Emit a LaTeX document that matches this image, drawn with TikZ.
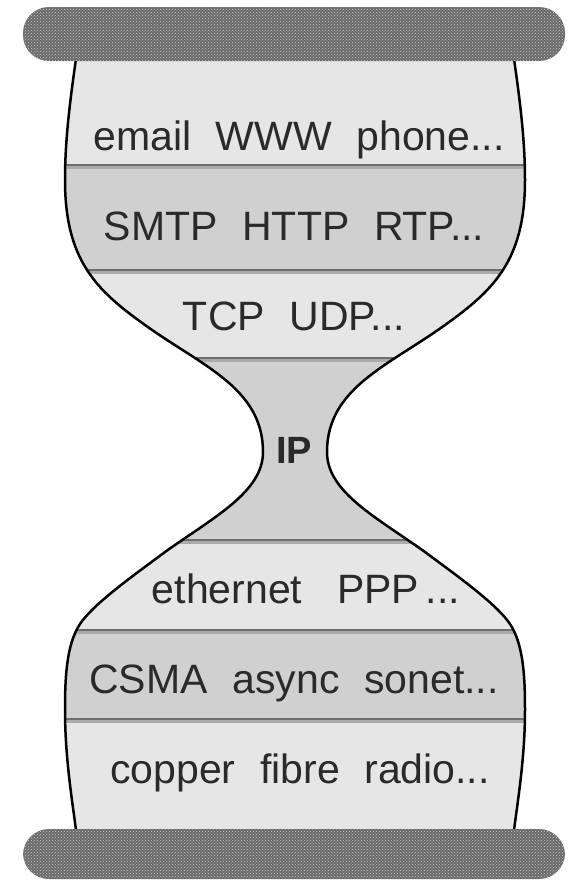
\documentclass[tikz,border=0pt]{standalone}
\usepackage{fontspec}
\setmainfont{Liberation Sans}
\usetikzlibrary{patterns}

\definecolor{lightband}{HTML}{E6E6E6}
\definecolor{darkband}{HTML}{D0D0D0}
\definecolor{sepdark}{HTML}{6E6E6E}
\definecolor{seplight}{HTML}{ABABAB}
\definecolor{bargray}{HTML}{6A6A6A}
\definecolor{inkgray}{HTML}{2A2A2A}

\newcommand{\gap}{\hspace{0.6em}}
\newcommand{\hourglass}{(77,52) .. controls (70,100) and (65,140) .. (65,180)
  .. controls (65,260) and (96,290) .. (145,325)
  .. controls (202,366) and (263,388) .. (263,452)
  .. controls (263,492) and (214,517) .. (165,552)
  .. controls (137,573) and (94,603) .. (80,624)
  .. controls (66,645) and (65,680) .. (65,710)
  .. controls (65,760) and (73,805) .. (77,838)
  -- (513,838)
  .. controls (517,805) and (525,760) .. (525,710)
  .. controls (525,680) and (524,645) .. (510,624)
  .. controls (496,603) and (453,573) .. (425,552)
  .. controls (376,517) and (327,492) .. (327,452)
  .. controls (327,388) and (388,366) .. (445,325)
  .. controls (494,290) and (525,260) .. (525,180)
  .. controls (525,140) and (520,100) .. (513,52) -- cycle}

\tikzset{
  layer/.style={anchor=base, inner sep=0pt, text=inkgray, font=\fontsize{41}{41}\selectfont},
  sepline/.style={draw=sepdark, line width=2pt},
  sepshade/.style={draw=seplight, line width=3pt},
  bar/.style={rounded corners=26pt, preaction={fill=bargray}, pattern=crosshatch dots, pattern color=black!22},
  outline/.style={draw=black, line width=2.5pt, line join=round}
}

\begin{document}
\begin{tikzpicture}[x=1pt, y=-1pt]
    \useasboundingbox (0,0) rectangle (574,881);
    \begin{scope}
      \clip \hourglass;
      \fill[lightband] (0,0) rectangle (574,881);
      \fill[darkband] (0,165) rectangle (574,270);
      \fill[darkband] (0,358) rectangle (574,540);
      \fill[darkband] (0,630) rectangle (574,719);
      \foreach \y in {165,270,358,540,630,719} {
        \draw[sepshade] (0,\y+2.5) -- (574,\y+2.5);
        \draw[sepline] (0,\y) -- (574,\y);
      }
    \end{scope}
    \draw[outline] \hourglass;
    \node[layer] (app) at (299,150) {email\gap WWW\gap phone...};
    \node[layer] (proto) at (294,240) {SMTP\gap HTTP\gap RTP...};
    \node[layer] (trans) at (294,330) {TCP\gap UDP...};
    \node[layer, font=\fontsize{38}{38}\selectfont\bfseries] (ip) at (294,463) {IP};
    \node[layer] (link) at (306,603) {ethernet\hspace{0.85em}PPP\,...};
    \node[layer] (mac) at (294,693) {CSMA\gap async\gap sonet...};
    \node[layer] (phys) at (300,783) {copper\gap fibre\gap radio...};
    \fill[bar] (23,7) rectangle (565,61);
    \fill[bar] (23,829) rectangle (565,879);
  \end{tikzpicture}
\end{document}
